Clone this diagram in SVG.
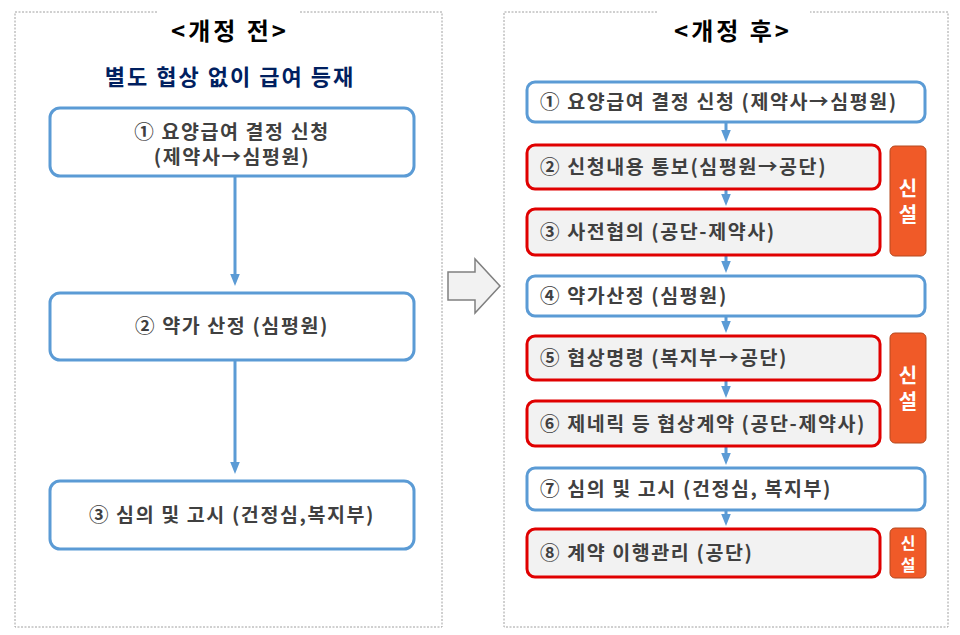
<svg xmlns="http://www.w3.org/2000/svg" width="960" height="635" viewBox="0 0 960 635">
<defs>
<style>
text{font-family:"Noto Sans CJK KR","Liberation Sans",sans-serif;font-weight:bold;}
.panel{fill:none;stroke:#a0a0a0;stroke-width:1;stroke-dasharray:2,1.5;}
.bl{fill:#fff;stroke:#5b9bd5;stroke-width:3;}
.rd{fill:#f2f2f2;stroke:#e00000;stroke-width:3;}
.t{font-size:19.5px;fill:#404040;letter-spacing:1.6px;}
.new{fill:#f05a28;stroke:#b5491f;stroke-width:1;}
.nt{font-size:20px;fill:#fff;text-anchor:middle;}
.nts{font-size:16px;fill:#fff;text-anchor:middle;}
.ln{stroke:#5b9bd5;stroke-width:3;fill:none;}
</style>
<marker id="ah" markerWidth="4" markerHeight="4" refX="2" refY="2" orient="auto" markerUnits="strokeWidth"><path d="M0,0.4L4,2L0,3.6z" fill="#5b9bd5"/></marker>
</defs>
<rect width="960" height="635" fill="#fff"/>
<path class="panel" d="M157,12H15V627H442V12H300"/>
<path class="panel" d="M657,12H504V627H948V12H810"/>
<text x="230" y="40" font-size="24" fill="#000" text-anchor="middle" letter-spacing="3">&lt;개정 전&gt;</text>
<text x="230" y="85" font-size="22" fill="#002060" text-anchor="middle" letter-spacing="2">별도 협상 없이 급여 등재</text>
<text x="733" y="40" font-size="24" fill="#000" text-anchor="middle" letter-spacing="3">&lt;개정 후&gt;</text>
<g id="connectors">
<line class="ln" x1="235" y1="177" x2="235" y2="280" marker-end="url(#ah)"/>
<line class="ln" x1="235" y1="361" x2="235" y2="468" marker-end="url(#ah)"/>
<line class="ln" x1="726" y1="123" x2="726" y2="136" marker-end="url(#ah)"/>
<line class="ln" x1="726" y1="190" x2="726" y2="200" marker-end="url(#ah)"/>
<line class="ln" x1="726" y1="256" x2="726" y2="267" marker-end="url(#ah)"/>
<line class="ln" x1="726" y1="317" x2="726" y2="327" marker-end="url(#ah)"/>
<line class="ln" x1="726" y1="381" x2="726" y2="392" marker-end="url(#ah)"/>
<line class="ln" x1="726" y1="447" x2="726" y2="459" marker-end="url(#ah)"/>
<line class="ln" x1="726" y1="511" x2="726" y2="520" marker-end="url(#ah)"/>
</g>
<g id="bigarrow"><path d="M448,272H475V259L500,286L475,313V300H448Z" fill="#f2f2f2" stroke="#808080" stroke-width="1.5"/></g>
<g id="L1"><rect class="bl" x="50" y="108" width="364" height="68" rx="10"/><text class="t" x="232" y="139" text-anchor="middle">① 요양급여 결정 신청</text><text class="t" x="232" y="164" text-anchor="middle">(제약사→심평원)</text></g>
<g id="L2"><rect class="bl" x="50" y="293" width="364" height="67" rx="10"/><text class="t" x="232" y="333" text-anchor="middle">② 약가 산정 (심평원)</text></g>
<g id="L3"><rect class="bl" x="50" y="481" width="364" height="68" rx="10"/><text class="t" x="232" y="522" text-anchor="middle">③ 심의 및 고시 (건정심,복지부)</text></g>
<g id="R1"><rect class="bl" x="527" y="82" width="398" height="40" rx="8"/><text class="t" x="540" y="109">① 요양급여 결정 신청 (제약사→심평원)</text></g>
<g id="R2"><rect class="rd" x="527" y="145" width="353" height="44" rx="8"/><text class="t" x="540" y="174">② 신청내용 통보(심평원→공단)</text></g>
<g id="R3"><rect class="rd" x="527" y="209" width="353" height="46" rx="8"/><text class="t" x="540" y="239">③ 사전협의 (공단-제약사)</text></g>
<g id="R4"><rect class="bl" x="527" y="276" width="398" height="40" rx="8"/><text class="t" x="540" y="303">④ 약가산정 (심평원)</text></g>
<g id="R5"><rect class="rd" x="527" y="336" width="353" height="44" rx="8"/><text class="t" x="540" y="365">⑤ 협상명령 (복지부→공단)</text></g>
<g id="R6"><rect class="rd" x="527" y="401" width="353" height="45" rx="8"/><text class="t" x="540" y="431">⑥ 제네릭 등 협상계약 (공단-제약사)</text></g>
<g id="R7"><rect class="bl" x="527" y="468" width="398" height="42" rx="8"/><text class="t" x="540" y="496">⑦ 심의 및 고시 (건정심, 복지부)</text></g>
<g id="R8"><rect class="rd" x="527" y="529" width="353" height="48" rx="8"/><text class="t" x="540" y="560">⑧ 계약 이행관리 (공단)</text></g>
<g id="N1"><rect class="new" x="890" y="146" width="36" height="110" rx="5"/><text class="nt" x="908" y="196">신</text><text class="nt" x="908" y="222">설</text></g>
<g id="N2"><rect class="new" x="890" y="333" width="36" height="110" rx="5"/><text class="nt" x="908" y="383">신</text><text class="nt" x="908" y="409">설</text></g>
<g id="N3"><rect class="new" x="890" y="528" width="36" height="50" rx="5"/><text class="nts" x="908" y="549">신</text><text class="nts" x="908" y="571">설</text></g>
</svg>
